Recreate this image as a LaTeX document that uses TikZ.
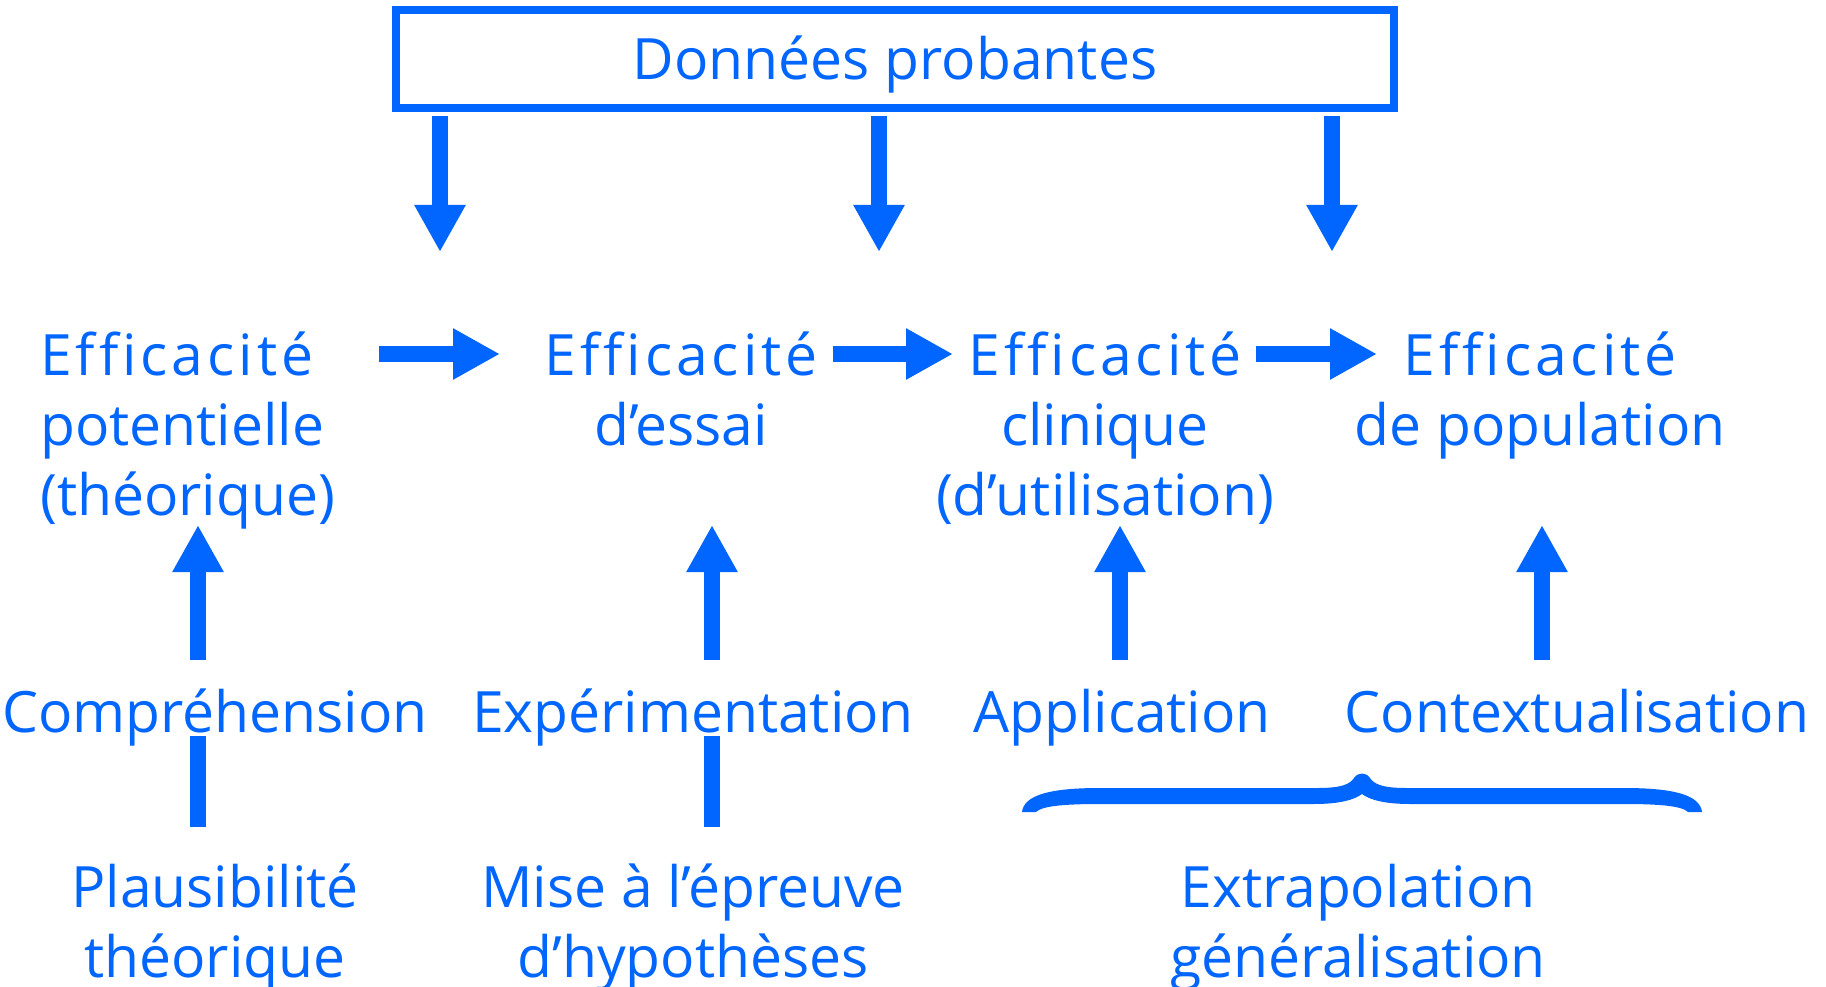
\documentclass[tikz,border=0pt]{standalone}
\usepackage{fontspec}
\setmainfont{Open Sans}[Ligatures=CommonOff]
\newfontfamily\effont{Open Sans}[Ligatures=CommonOff,LetterSpace=7]
\usetikzlibrary{arrows.meta}
\definecolor{blu}{RGB}{0,102,255}
\newcommand{\fl}{\rule{0pt}{60pt}}
\newcommand{\eff}{{\effont Efficacité}}
\begin{document}
\begin{tikzpicture}[x=1pt,y=-1pt,
  txt/.style={inner sep=0pt, text=blu, font=\fontsize{57}{70}\selectfont, align=center, anchor=north},
  arr/.style={draw=blu, line width=16pt, -{Triangle[length=47pt,width=48pt]}},
  bar/.style={draw=blu, line width=16pt}]
\useasboundingbox (0,0) rectangle (1826,987);
% top box
\node[draw=blu, line width=8pt, minimum width=998pt, minimum height=98pt, inner sep=0pt,
      text=blu, font=\fontsize{57}{70}\selectfont, text height=41pt, text depth=0pt] (box) at (895,59) {Données probantes};
% row 1
\node[txt, anchor=north west, align=left] (e1) at (40,315) {\fl\eff\\potentielle\\(théorique)};
\node[txt] (e2) at (681,315) {\fl\eff\\d’essai};
\node[txt] (e3) at (1105,315) {\fl\eff\\clinique\\(d’utilisation)};
\node[txt] (e4) at (1540,315) {\fl\eff\\de population};
% row 2
\node[txt] (r1) at (215,672) {\fl Compréhension};
\node[txt] (r2) at (693,672) {\fl Expérimentation};
\node[txt] (r3) at (1122,672) {\fl Application};
\node[txt] (r4) at (1577,672) {\fl Contextualisation};
% row 3
\node[txt] (b1) at (215,847) {\fl Plausibilité\\théorique};
\node[txt] (b2) at (693,847) {\fl Mise à l’épreuve\\d’hypothèses};
\node[txt] (b3) at (1358,847) {\fl Extrapolation\\généralisation};
% down arrows
\coordinate (d1a) at (440,116); \coordinate (d1b) at (440,252);
\coordinate (d2a) at (879,116); \coordinate (d2b) at (879,252);
\coordinate (d3a) at (1332,116); \coordinate (d3b) at (1332,252);
\draw[arr] (d1a) -- (d1b);
\draw[arr] (d2a) -- (d2b);
\draw[arr] (d3a) -- (d3b);
% horizontal arrows
\coordinate (h1a) at (379,354); \coordinate (h1b) at (500,354);
\coordinate (h2a) at (833,354); \coordinate (h2b) at (953,354);
\coordinate (h3a) at (1256,354); \coordinate (h3b) at (1377,354);
\draw[arr] (h1a) -- (h1b);
\draw[arr] (h2a) -- (h2b);
\draw[arr] (h3a) -- (h3b);
% up arrows
\coordinate (u1a) at (198,660); \coordinate (u1b) at (198,525);
\coordinate (u2a) at (712,660); \coordinate (u2b) at (712,525);
\coordinate (u3a) at (1120,660); \coordinate (u3b) at (1120,525);
\coordinate (u4a) at (1542,660); \coordinate (u4b) at (1542,525);
\draw[arr] (u1a) -- (u1b);
\draw[arr] (u2a) -- (u2b);
\draw[arr] (u3a) -- (u3b);
\draw[arr] (u4a) -- (u4b);
% plain bars
\coordinate (l1a) at (198,736); \coordinate (l1b) at (198,827);
\coordinate (l2a) at (712,736); \coordinate (l2b) at (712,827);
\draw[bar] (l1a) -- (l1b);
\draw[bar] (l2a) -- (l2b);
% brace
\fill[blu] (1022,812) .. controls (1024,795) and (1050,788) .. (1100,788) -- (1318,788)
  .. controls (1342,788) and (1350,784) .. (1354,778)
  .. controls (1358,772) and (1366,772) .. (1370,778)
  .. controls (1374,784) and (1382,788) .. (1406,788) -- (1624,788)
  .. controls (1674,788) and (1700,795) .. (1702,812) -- (1688,812)
  .. controls (1682,806) and (1660,804) .. (1624,804) -- (1410,804)
  .. controls (1385,804) and (1370,800) .. (1362,794)
  .. controls (1354,800) and (1339,804) .. (1314,804) -- (1100,804)
  .. controls (1064,804) and (1042,806) .. (1036,812) -- cycle;
\end{tikzpicture}
\end{document}
